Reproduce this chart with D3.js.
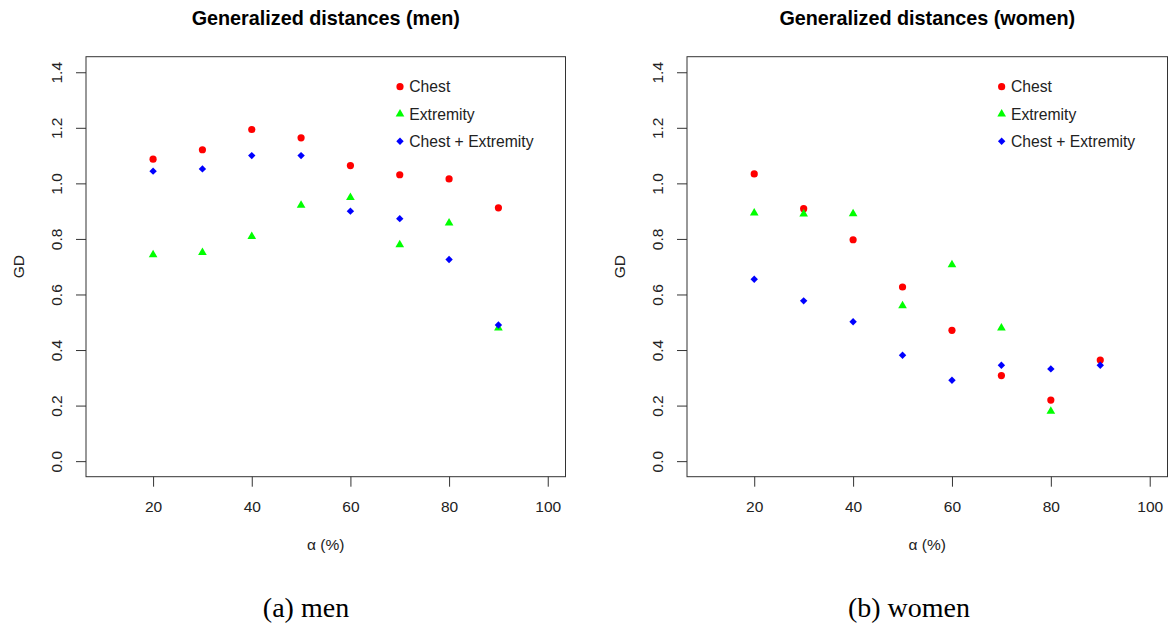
<!DOCTYPE html>
<html>
<head>
<meta charset="utf-8">
<script src="https://cdn.jsdelivr.net/npm/d3@7"></script>
<style>
  html, body { margin: 0; padding: 0; background: #fff; }
  svg { display: block; }
</style>
</head>
<body>
<svg id="chart" width="1169" height="628"></svg>
<script>
// ---- data ----
const alphas = [20, 30, 40, 50, 60, 70, 80, 90];
const menChest = [1.087, 1.121, 1.194, 1.164, 1.064, 1.031, 1.016, 0.912];
const menExtremity = [0.743, 0.751, 0.809, 0.921, 0.949, 0.779, 0.857, 0.479];
const menCombined = [1.044, 1.052, 1.100, 1.100, 0.900, 0.873, 0.726, 0.490];
const womenChest = [1.034, 0.909, 0.797, 0.627, 0.471, 0.308, 0.220, 0.364];
const womenExtremity = [0.893, 0.890, 0.891, 0.559, 0.707, 0.479, 0.180, null];
const womenCombined = [0.655, 0.577, 0.502, 0.381, 0.291, 0.345, 0.332, 0.345];
const seriesNames = ["Chest", "Extremity", "Chest + Extremity"];
const xTicks = [20, 40, 60, 80, 100];
const yTicks = [0.0, 0.2, 0.4, 0.6, 0.8, 1.0, 1.2, 1.4];
const titles = ["Generalized distances (men)", "Generalized distances (women)"];
const captions = ["(a) men", "(b) women"];

// ---- layout ----
const colors = ["#ff0000", "#00ff00", "#0000ff"];
const svg = d3.select("#chart");
const font = "'Liberation Sans', Arial, sans-serif";

const panels = [
  { left: 86, right: 565.5, captionX: 306, series: [menChest, menExtremity, menCombined], title: titles[0], caption: captions[0] },
  { left: 687, right: 1167.5, captionX: 909, series: [womenChest, womenExtremity, womenCombined], title: titles[1], caption: captions[1] }
];
const plotTop = 56.7, plotBottom = 476.7;

function symbolPath(kind) {
  if (kind === 0) return d3.symbol(d3.symbolCircle, Math.PI * 3.6 * 3.6)();
  if (kind === 1) { const r = 5.0; const xc = r * Math.sqrt(3) / 2; return `M0,${-r}L${xc},${r/2}L${-xc},${r/2}Z`; }
  const h = 3.7; return `M0,${-h}L${h},0L0,${h}L${-h},0Z`;
}

panels.forEach(p => {
  const g = svg.append("g");
  const x = d3.scaleLinear().domain([6.4, 103.6]).range([p.left, p.right]);
  const y = d3.scaleLinear().domain([-0.056, 1.456]).range([plotBottom, plotTop]);

  // box
  g.append("rect").attr("x", p.left).attr("y", plotTop)
    .attr("width", p.right - p.left).attr("height", plotBottom - plotTop)
    .attr("fill", "none").attr("stroke", "#333").attr("stroke-width", 1);

  // x axis
  const xa = g.append("g").attr("transform", `translate(0,${plotBottom})`)
    .call(d3.axisBottom(x).tickValues(xTicks).tickSize(10).tickSizeOuter(0).tickFormat(d3.format("d")));
  xa.select(".domain").remove();
  xa.selectAll(".tick line").attr("stroke", "#333");
  xa.selectAll(".tick text").attr("y", 35.5).attr("dy", null)
    .attr("font-family", font).attr("font-size", 15.5).attr("fill", "#222");

  // y axis
  const ya = g.append("g").attr("transform", `translate(${p.left},0)`)
    .call(d3.axisLeft(y).tickValues(yTicks).tickSize(10).tickSizeOuter(0).tickFormat(d3.format(".1f")));
  ya.select(".domain").remove();
  ya.selectAll(".tick line").attr("stroke", "#333");
  ya.selectAll(".tick text")
    .attr("x", null).attr("y", null).attr("dy", null)
    .attr("text-anchor", "middle")
    .attr("transform", "translate(-24.5,0) rotate(-90)")
    .attr("font-family", font).attr("font-size", 15.5).attr("fill", "#222");

  // axis titles
  const cx = (p.left + p.right) / 2;
  g.append("text").attr("x", cx).attr("y", 549.5).attr("text-anchor", "middle")
    .attr("font-family", font).attr("font-size", 15.5).attr("fill", "#222").text("α (%)");
  g.append("text").attr("transform", `translate(${p.left - 62.5},${(plotTop + plotBottom) / 2}) rotate(-90)`)
    .attr("text-anchor", "middle").attr("font-family", font).attr("font-size", 15.5).attr("fill", "#222").text("GD");

  // title
  g.append("text").attr("x", cx).attr("y", 25).attr("text-anchor", "middle")
    .attr("font-family", font).attr("font-weight", "bold").attr("font-size", 19.8).attr("fill", "#000").text(p.title);

  // caption
  g.append("text").attr("x", p.captionX).attr("y", 616.5).attr("text-anchor", "middle")
    .attr("font-family", "'Liberation Serif', 'Times New Roman', serif").attr("font-size", 28).attr("fill", "#000").text(p.caption);

  // points
  p.series.forEach((vals, si) => {
    g.append("g").selectAll("path")
      .data(alphas.map((a, i) => ({ a, v: vals[i] })).filter(d => d.v != null))
      .join("path")
      .attr("d", symbolPath(si))
      .attr("transform", d => `translate(${x(d.a)},${y(d.v)})`)
      .attr("fill", colors[si]);
  });

  // legend
  const lx = x(70.05);
  seriesNames.forEach((name, si) => {
    const ly = 86.7 + si * 27.3;
    g.append("path").attr("d", symbolPath(si)).attr("transform", `translate(${lx},${ly})`).attr("fill", colors[si]);
    g.append("text").attr("x", lx + 9.3).attr("y", ly + 5.5)
      .attr("font-family", font).attr("font-size", 15.7).attr("fill", "#222").text(name);
  });
});
</script>
</body>
</html>
